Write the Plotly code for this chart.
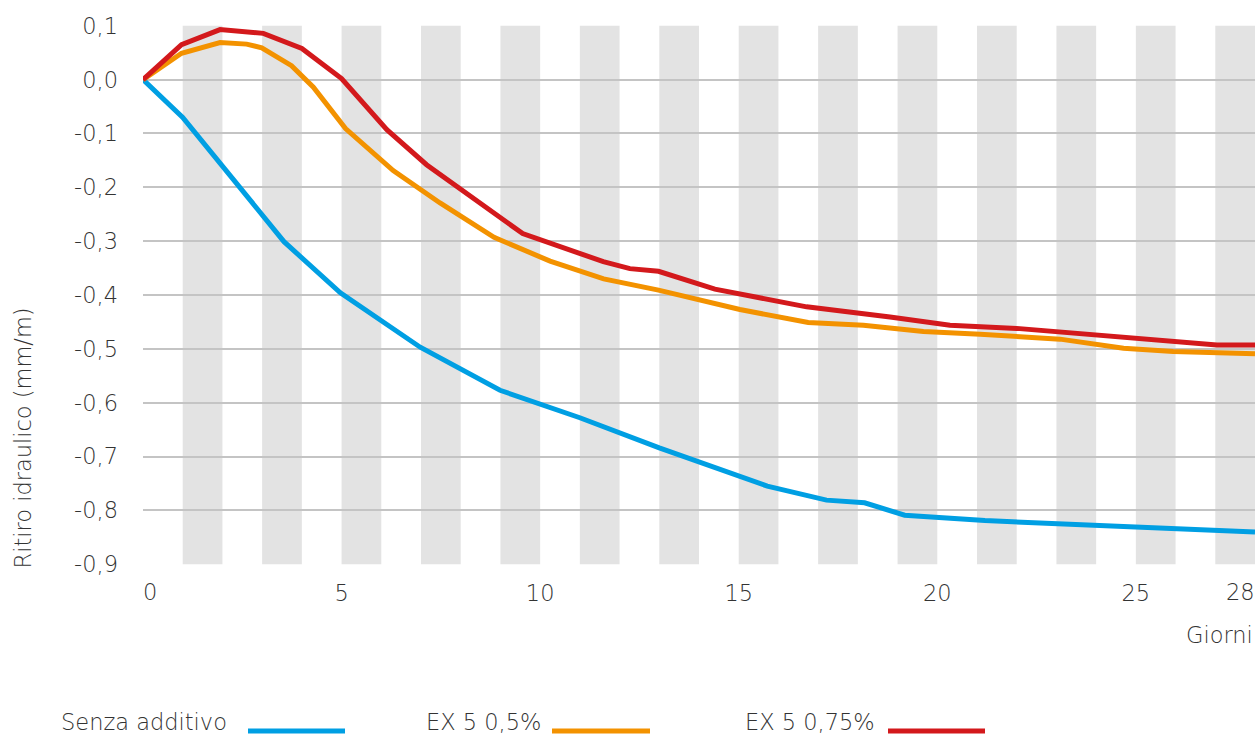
import plotly.graph_objects as go

# ---------------- data ----------------
days_senza = [0, 1.0, 3.55, 4.97, 6.98, 8.99, 11.0, 13.0, 15.72, 17.21, 18.17, 19.18, 21.2, 24.5, 28.0]
vals_senza = [0, -0.070, -0.301, -0.396, -0.497, -0.577, -0.628, -0.684, -0.755, -0.781, -0.786, -0.809, -0.819, -0.830, -0.840]

days_ex05 = [0, 0.97, 1.94, 2.61, 2.99, 3.74, 4.29, 5.1, 6.3, 7.48, 8.84, 10.25, 11.6, 12.98, 15.03, 16.75, 18.14, 19.65, 21.08, 23.09, 24.69, 25.94, 28.0]
vals_ex05 = [0, 0.049, 0.069, 0.066, 0.059, 0.026, -0.014, -0.091, -0.169, -0.229, -0.293, -0.337, -0.370, -0.391, -0.427, -0.451, -0.456, -0.468, -0.473, -0.482, -0.499, -0.505, -0.509]

days_ex075 = [0, 0.97, 1.94, 3.03, 4.0, 5.0, 6.14, 7.14, 9.56, 11.59, 12.26, 12.98, 14.4, 16.71, 18.81, 20.32, 22.0, 24.1, 25.5, 27.04, 28.0]
vals_ex075 = [0, 0.065, 0.093, 0.086, 0.058, 0.002, -0.093, -0.158, -0.286, -0.338, -0.351, -0.356, -0.389, -0.422, -0.441, -0.456, -0.462, -0.475, -0.482, -0.493, -0.493]

series_names = ["Senza additivo", "EX 5 0,5%", "EX 5 0,75%"]
series_colors = ["#009FE3", "#F39200", "#D3191C"]

x_tickvals = [0, 5, 10, 15, 20, 25, 28]
x_ticktext = ["0", "5", "10", "15", "20", "25", "28"]
y_tickvals = [0.1, 0.0, -0.1, -0.2, -0.3, -0.4, -0.5, -0.6, -0.7, -0.8, -0.9]
y_ticktext = ["0,1", "0,0", "-0,1", "-0,2", "-0,3", "-0,4", "-0,5", "-0,6", "-0,7", "-0,8", "-0,9"]
band_starts = list(range(1, 28, 2))  # shaded day intervals [d, d+1]

x_title = "Giorni"
y_title = "Ritiro idraulico (mm/m)"

# ---------------- figure ----------------
FONT = "DejaVu Sans"
TXT = "#333333"
FS = 22.5
W, H = 1260, 735
ML, MR, MT, MB = 143, 5, 25, 170
PW, PH = W - ML - MR, H - MT - MB

fig = go.Figure()
for d, v, name, col in zip([days_senza, days_ex05, days_ex075],
                           [vals_senza, vals_ex05, vals_ex075],
                           series_names, series_colors):
    fig.add_trace(go.Scatter(x=d, y=v, mode="lines", name=name,
                             line=dict(color=col, width=5), showlegend=False))

shapes = []
for s in band_starts:
    shapes.append(dict(type="rect", xref="x", yref="y", x0=s, x1=s + 1, y0=-0.9, y1=0.1,
                       fillcolor="#E3E3E3", line=dict(width=0), layer="below"))

font_txt = dict(family=FONT, size=FS, color=TXT, weight=200)


def px_to_paper_x(px):
    return (px - ML) / PW


def px_to_paper_y(py):
    return (H - MB - py) / PH


annotations = [
    dict(text=x_title, xref="paper", yref="paper", x=1, y=px_to_paper_y(635), xanchor="right",
         yanchor="middle", showarrow=False, font=font_txt),
    dict(text=y_title, xref="paper", yref="paper", x=px_to_paper_x(22), y=px_to_paper_y(571),
         xanchor="center", yanchor="bottom", textangle=-90, showarrow=False, font=font_txt),
]

# first and last x tick labels are edge-aligned (left / right) as in the original
inner_vals = x_tickvals[1:-1]
inner_text = x_ticktext[1:-1]
for val, txt, anchor in [(x_tickvals[0], x_ticktext[0], "left"),
                         (x_tickvals[-1], x_ticktext[-1], "right")]:
    annotations.append(dict(text=txt, xref="x", yref="paper", x=val, y=px_to_paper_y(592),
                            xanchor=anchor, yanchor="middle", showarrow=False, font=font_txt,
                            xshift=-2 if anchor == "left" else 2))

# custom legend: text left of the line sample
leg_y_text = 722
leg_y_line = 731
legend_items = [(229, 248, 345), (543, 552, 650), (877, 888, 985)]
for (tx, lx0, lx1), name, col in zip(legend_items, series_names, series_colors):
    annotations.append(dict(text=name, xref="paper", yref="paper", x=px_to_paper_x(tx),
                            y=px_to_paper_y(leg_y_text), xanchor="right", yanchor="middle",
                            showarrow=False, font=font_txt))
    shapes.append(dict(type="line", xref="paper", yref="paper",
                       x0=px_to_paper_x(lx0), x1=px_to_paper_x(lx1),
                       y0=px_to_paper_y(leg_y_line), y1=px_to_paper_y(leg_y_line),
                       line=dict(color=col, width=5)))

fig.update_layout(
    width=W, height=H,
    margin=dict(l=ML, r=MR, t=MT, b=MB, autoexpand=False),
    paper_bgcolor="white", plot_bgcolor="white",
    font=font_txt,
    shapes=shapes, annotations=annotations,
    xaxis=dict(range=[0, 28], tickvals=inner_vals, ticktext=inner_text, showgrid=False,
               zeroline=False, showline=False, ticks="", ticklabelstandoff=12,
               automargin=False, tickfont=font_txt),
    yaxis=dict(range=[-0.9015, 0.1015], tickvals=y_tickvals, ticktext=y_ticktext,
               showgrid=True, gridcolor="#C4C4C4", gridwidth=1.5, zeroline=False,
               showline=False, ticks="", ticklabelstandoff=24, automargin=False,
               tickfont=font_txt),
)

fig.write_html("out.html", config={"displayModeBar": False},
               post_script="document.body.style.margin='0';")
